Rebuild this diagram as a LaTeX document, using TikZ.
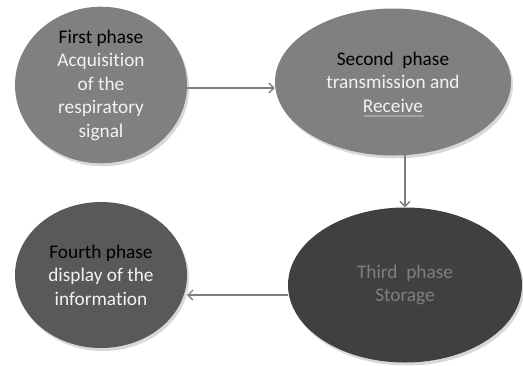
\documentclass[tikz,border=0pt]{standalone}
\usepackage{fontspec}
\setmainfont{Carlito}[Ligatures=NoCommon]
\usetikzlibrary{shapes.geometric,shadows,arrows.meta,decorations.pathmorphing}
\definecolor{midgray}{HTML}{808080}
\definecolor{darkgray4}{HTML}{595959}
\definecolor{darkgray3}{HTML}{404040}
\definecolor{arrgray}{HTML}{7F7F7F}
\definecolor{lighttext}{HTML}{F2F2F2}
\definecolor{dimtext}{HTML}{7F7F7F}
\tikzset{
  phase/.style={ellipse, inner sep=0pt, align=center,
    font=\fontsize{19.3}{23.5}\selectfont,
    drop shadow={opacity=0.3, shadow xshift=2pt, shadow yshift=-3pt}},
  arr/.style={draw=arrgray, line width=1.6pt, -{Straight Barb[length=5pt,width=10pt,line width=1.4pt]}},
}
\begin{document}
\begin{tikzpicture}[x=1pt,y=-1pt]
\useasboundingbox[fill=white] (0,0) rectangle (523,365);
\node[phase, fill=midgray, minimum width=172pt, minimum height=154pt] (first) at (101,85)
  {\textcolor{black}{First phase}\\\textcolor{lighttext}{Acquisition}\\\textcolor{lighttext}{of the}\\\textcolor{lighttext}{respiratory}\\\textcolor{lighttext}{signal}};
\node[phase, fill=midgray, minimum width=236pt, minimum height=147pt] (second) at (393,82)
  {\textcolor{black}{Second\ \ phase}\\\textcolor{lighttext}{transmission and}\\\textcolor{lighttext}{Receive}};
\node[phase, fill=darkgray3, minimum width=234pt, minimum height=155pt] (third) at (405,285)
  {\textcolor{dimtext}{Third\ \ phase}\\\textcolor{dimtext}{Storage}};
\node[phase, fill=darkgray4, minimum width=172pt, minimum height=146pt] (fourth) at (101,275)
  {\textcolor{black}{Fourth phase}\\\textcolor{lighttext}{display of the}\\\textcolor{lighttext}{information}};
\coordinate (sq1) at (364,116);
\coordinate (sq2) at (424,116);
\draw[lighttext!70!midgray, line width=0.5pt, decorate, decoration={snake, amplitude=0.6pt, segment length=2.5pt}] (sq1) -- (sq2);
\coordinate (a1) at (187,88);
\draw[arr] (a1) -- (a1 -| second.west);
\coordinate (a2) at (405,155);
\draw[arr] (a2) -- (a2 |- third.north);
\coordinate (a3) at (288,295);
\draw[arr] (a3) -- (187,295);
\end{tikzpicture}
\end{document}
